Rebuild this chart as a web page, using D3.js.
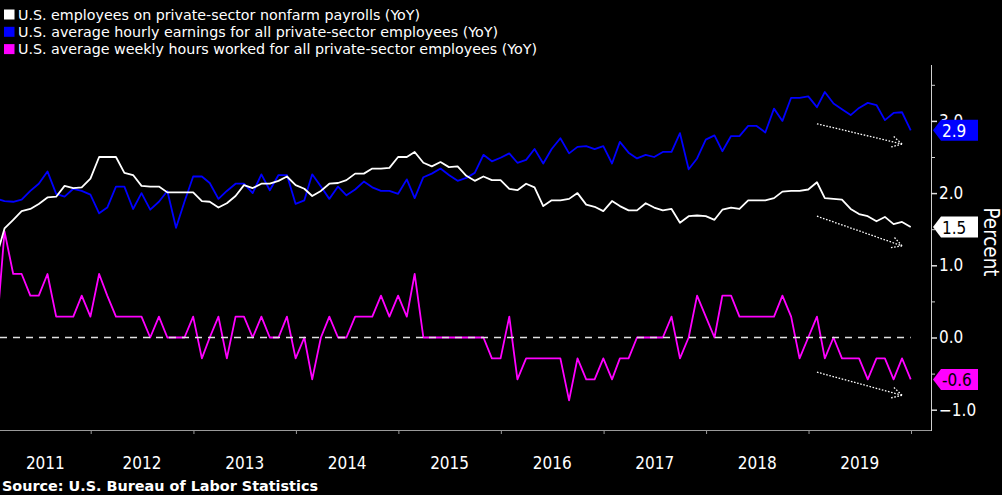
<!DOCTYPE html>
<html><head><meta charset="utf-8">
<script src="https://cdn.jsdelivr.net/npm/d3@7"></script>
<style>
body{margin:0;background:#000;}
svg{display:block;}
text{font-family:"DejaVu Sans Condensed","DejaVu Sans",sans-serif;font-stretch:condensed;}
</style>
</head><body>
<svg id="chart" width="1002" height="495"></svg>
<script>
// ---- data (monthly, Jan 2011 .. Dec 2019, YoY %) ----
const startYear = 2011;
const payrolls = [1.13,1.51,1.63,1.75,1.78,1.85,1.94,1.95,2.10,2.07,2.08,2.20,
  2.50,2.50,2.50,2.28,2.25,2.10,2.09,2.09,2.01,2.01,2.01,2.01,
  1.89,1.88,1.80,1.86,1.96,2.11,2.07,2.13,2.13,2.17,2.23,2.11,
  2.06,1.96,2.03,2.13,2.14,2.18,2.27,2.27,2.34,2.34,2.35,2.50,
  2.50,2.57,2.42,2.37,2.43,2.36,2.37,2.24,2.17,2.23,2.18,2.18,
  2.06,2.04,2.13,2.08,1.82,1.90,1.90,1.92,2.00,1.84,1.81,1.75,
  1.89,1.82,1.76,1.76,1.86,1.80,1.76,1.78,1.59,1.68,1.69,1.68,
  1.63,1.77,1.80,1.78,1.90,1.90,1.90,1.93,2.02,2.03,2.03,2.05,
  2.15,1.93,1.92,1.91,1.78,1.71,1.68,1.61,1.67,1.57,1.60,1.53];
const earnings = [1.92,1.89,1.88,1.91,2.03,2.13,2.30,1.99,1.95,2.06,2.03,1.98,
  1.72,1.80,2.09,2.09,1.78,2.00,1.77,1.88,2.03,1.52,1.88,2.23,
  2.23,2.14,1.92,2.03,2.13,2.13,2.00,2.26,2.04,2.25,2.25,1.85,
  1.90,2.26,2.09,1.92,2.09,1.97,2.05,2.16,2.08,2.03,2.03,1.99,
  2.19,1.93,2.22,2.27,2.34,2.25,2.17,2.21,2.28,2.53,2.44,2.49,
  2.55,2.42,2.46,2.61,2.41,2.61,2.76,2.55,2.64,2.65,2.61,2.65,
  2.41,2.71,2.56,2.48,2.53,2.50,2.57,2.57,2.83,2.33,2.48,2.74,
  2.80,2.58,2.79,2.79,2.93,2.93,2.84,3.17,3.00,3.32,3.32,3.34,
  3.19,3.40,3.24,3.16,3.08,3.18,3.25,3.22,3.01,3.11,3.12,2.87];
const hours = [0.10,1.47,0.88,0.88,0.58,0.58,0.88,0.29,0.29,0.29,0.58,0.29,
  0.88,0.58,0.29,0.29,0.29,0.29,0,0.29,0,0,0,0.29,
  -0.29,0,0.29,-0.29,0.29,0.29,0,0.29,0,0,0.29,-0.29,
  0,-0.58,0,0.29,0,0,0.29,0.29,0.29,0.58,0.29,0.58,
  0.29,0.88,0,0,0,0,0,0,0,0,-0.29,-0.29,
  0.29,-0.58,-0.29,-0.29,-0.29,-0.29,-0.29,-0.87,-0.29,-0.58,-0.58,-0.29,
  -0.58,-0.29,-0.29,0,0,0,0,0.29,-0.29,0,0.58,0.29,
  0,0.58,0.58,0.29,0.29,0.29,0.29,0.29,0.58,0.29,-0.29,0,
  0.29,-0.29,0,-0.29,-0.29,-0.29,-0.58,-0.29,-0.29,-0.58,-0.29,-0.58];
const seriesNames = [
  "U.S. employees on private-sector nonfarm payrolls (YoY)",
  "U.S. average hourly earnings for all private-sector employees (YoY)",
  "U.S. average weekly hours worked for all private-sector employees (YoY)"];
const seriesColors = ["#ffffff", "#0000ff", "#ff00ff"];
const labelTextColors = ["#000000", "#ffffff", "#000000"];
const yearLabels = ["2011","2012","2013","2014","2015","2016","2017","2018","2019"];
const yMajorTicks = [-1, 0, 1, 2, 3];
const yMinorTicks = [-0.5, 0.5, 1.5, 2.5, 3.5];
// trend arrows: [start month index, start value, end month index, end value]
const arrowsSpec = [[96, 2.96, 106, 2.68], [96, 1.68, 106, 1.27], [96, -0.48, 106, -0.80]];
const sourceText = "Source: U.S. Bureau of Labor Statistics";
const axisTitle = "Percent";

// ---- layout ----
const svg = d3.select("#chart");
const W = 1002, H = 495;
const plotLeft = 0, plotRight = 931, plotTop = 65, plotBottom = 430;
svg.append("rect").attr("width", W).attr("height", H).attr("fill", "#000");

const monthDate = i => new Date(startYear, i + 1, 0); // month end
const x = d3.scaleTime()
  .domain([new Date(2012, 0, 1), new Date(2020, 0, 1)])
  .range([90.7, 911]);
const y = d3.scaleLinear().domain([-1, 3]).range([409.7, 120.9]);

svg.append("clipPath").attr("id", "clip").append("rect")
  .attr("x", plotLeft).attr("y", plotTop)
  .attr("width", plotRight - plotLeft).attr("height", plotBottom - plotTop);

const series = [payrolls, earnings, hours];
const plot = svg.append("g").attr("clip-path", "url(#clip)");
const line = d3.line().x((d, i) => x(monthDate(i))).y(d => y(d));

// draw magenta, blue, white
[2, 1, 0].forEach(k => {
  plot.append("path").datum(series[k])
    .attr("d", line).attr("fill", "none")
    .attr("stroke", seriesColors[k]).attr("stroke-width", 1.8)
    .attr("stroke-linejoin", "round");
});

// zero dashed line
const lastIdx = payrolls.length - 1;
plot.append("line")
  .attr("x1", plotLeft).attr("x2", x(monthDate(lastIdx)))
  .attr("y1", y(0)).attr("y2", y(0))
  .attr("stroke", "#e0e0e0").attr("stroke-width", 1.5)
  .attr("stroke-dasharray", "7,6");

// trend arrows
arrowsSpec.forEach(([i0, v0, i1, v1]) => {
  const xa = x(monthDate(i0)), ya = y(v0), xb = x(monthDate(i1)), yb = y(v1);
  const g = plot.append("g").attr("stroke", "#fff").attr("stroke-width", 1.3)
    .attr("stroke-dasharray", "1.6,1.6").attr("fill", "none");
  g.append("line").attr("x1", xa).attr("y1", ya).attr("x2", xb).attr("y2", yb);
  const ang = Math.atan2(yb - ya, xb - xa) + Math.PI;
  [0.5, -0.5].forEach(da => {
    g.append("line").attr("x1", xb).attr("y1", yb)
      .attr("x2", xb + 12 * Math.cos(ang + da)).attr("y2", yb + 12 * Math.sin(ang + da));
  });
});

// bottom axis
svg.append("line").attr("x1", plotLeft).attr("x2", plotRight)
  .attr("y1", plotBottom + 0.5).attr("y2", plotBottom + 0.5)
  .attr("stroke", "#9a9a9a").attr("stroke-width", 1);
const yearStarts = d3.range(2012, 2021).map(yy => new Date(yy, 0, 1));
const xAxis = svg.append("g").attr("transform", `translate(0,${plotBottom})`)
  .call(d3.axisBottom(x).tickValues(yearStarts).tickSize(4).tickFormat(""));
xAxis.select(".domain").remove();
xAxis.selectAll(".tick line").attr("stroke", "#9a9a9a");

yearLabels.forEach(lbl => {
  const yy = +lbl;
  const a = Math.max(x(new Date(yy, 0, 1)), plotLeft);
  const b = Math.min(x(new Date(yy + 1, 0, 1)), plotRight);
  svg.append("text").attr("x", (a + b) / 2).attr("y", 468.5)
    .attr("text-anchor", "middle").attr("fill", "#fff")
    .attr("font-size", 17).text(lbl);
});

// right axis
svg.append("line").attr("x1", plotRight + 0.5).attr("x2", plotRight + 0.5)
  .attr("y1", plotTop).attr("y2", plotBottom + 1)
  .attr("stroke", "#cfcfcf").attr("stroke-width", 1);
const yMinor = svg.append("g").attr("transform", `translate(${plotRight},0)`)
  .call(d3.axisRight(y).tickValues(yMinorTicks).tickSize(4).tickFormat(""));
yMinor.select(".domain").remove();
yMinor.selectAll(".tick line").attr("stroke", "#cfcfcf");
const yMajor = svg.append("g").attr("transform", `translate(${plotRight},0)`)
  .call(d3.axisRight(y).tickValues(yMajorTicks).tickSize(6).tickPadding(2)
    .tickFormat(d3.format(".1f")));
yMajor.select(".domain").remove();
yMajor.selectAll(".tick line").attr("stroke", "#e0e0e0").attr("stroke-width", 1.5);
yMajor.selectAll(".tick text").attr("fill", "#fff").attr("font-size", 17)
  .attr("font-family", '"DejaVu Sans Condensed","DejaVu Sans",sans-serif');

// last-value labels
series.forEach((s, k) => {
  const v = s[s.length - 1];
  const cy = y(v);
  const tip = plotRight + 2, neck = tip + 8, right = 978, hh = 10.5;
  svg.append("path")
    .attr("d", `M${tip},${cy} L${neck},${cy - hh} L${right},${cy - hh} L${right},${cy + hh} L${neck},${cy + hh} Z`)
    .attr("fill", seriesColors[k]);
  svg.append("text").attr("x", neck + 1).attr("y", cy + 6.5)
    .attr("fill", labelTextColors[k]).attr("font-size", 17)
    .text(d3.format(".1f")(v).replace("\u2212", "-"));
});

// axis title
svg.append("text").attr("transform", "translate(984,242) rotate(90)")
  .attr("text-anchor", "middle").attr("fill", "#fff").attr("font-size", 21)
  .attr("textLength", 69).attr("lengthAdjust", "spacingAndGlyphs")
  .text(axisTitle);

// legend
const legendWidths = [402, 480, 519];
seriesNames.forEach((name, k) => {
  const ly = 9.5 + k * 17.3;
  svg.append("rect").attr("x", 4).attr("y", ly).attr("width", 10.5).attr("height", 10)
    .attr("fill", seriesColors[k]);
  svg.append("text").attr("x", 18).attr("y", ly + 10.3)
    .attr("fill", "#fff").attr("font-size", 13.5)
    .attr("textLength", legendWidths[k]).attr("lengthAdjust", "spacingAndGlyphs")
    .text(name);
});

// source
svg.append("text").attr("x", 2).attr("y", 491)
  .attr("fill", "#fff").attr("font-size", 14).attr("font-weight", "bold")
  .attr("textLength", 316).attr("lengthAdjust", "spacingAndGlyphs")
  .text(sourceText);
</script>
</body></html>
